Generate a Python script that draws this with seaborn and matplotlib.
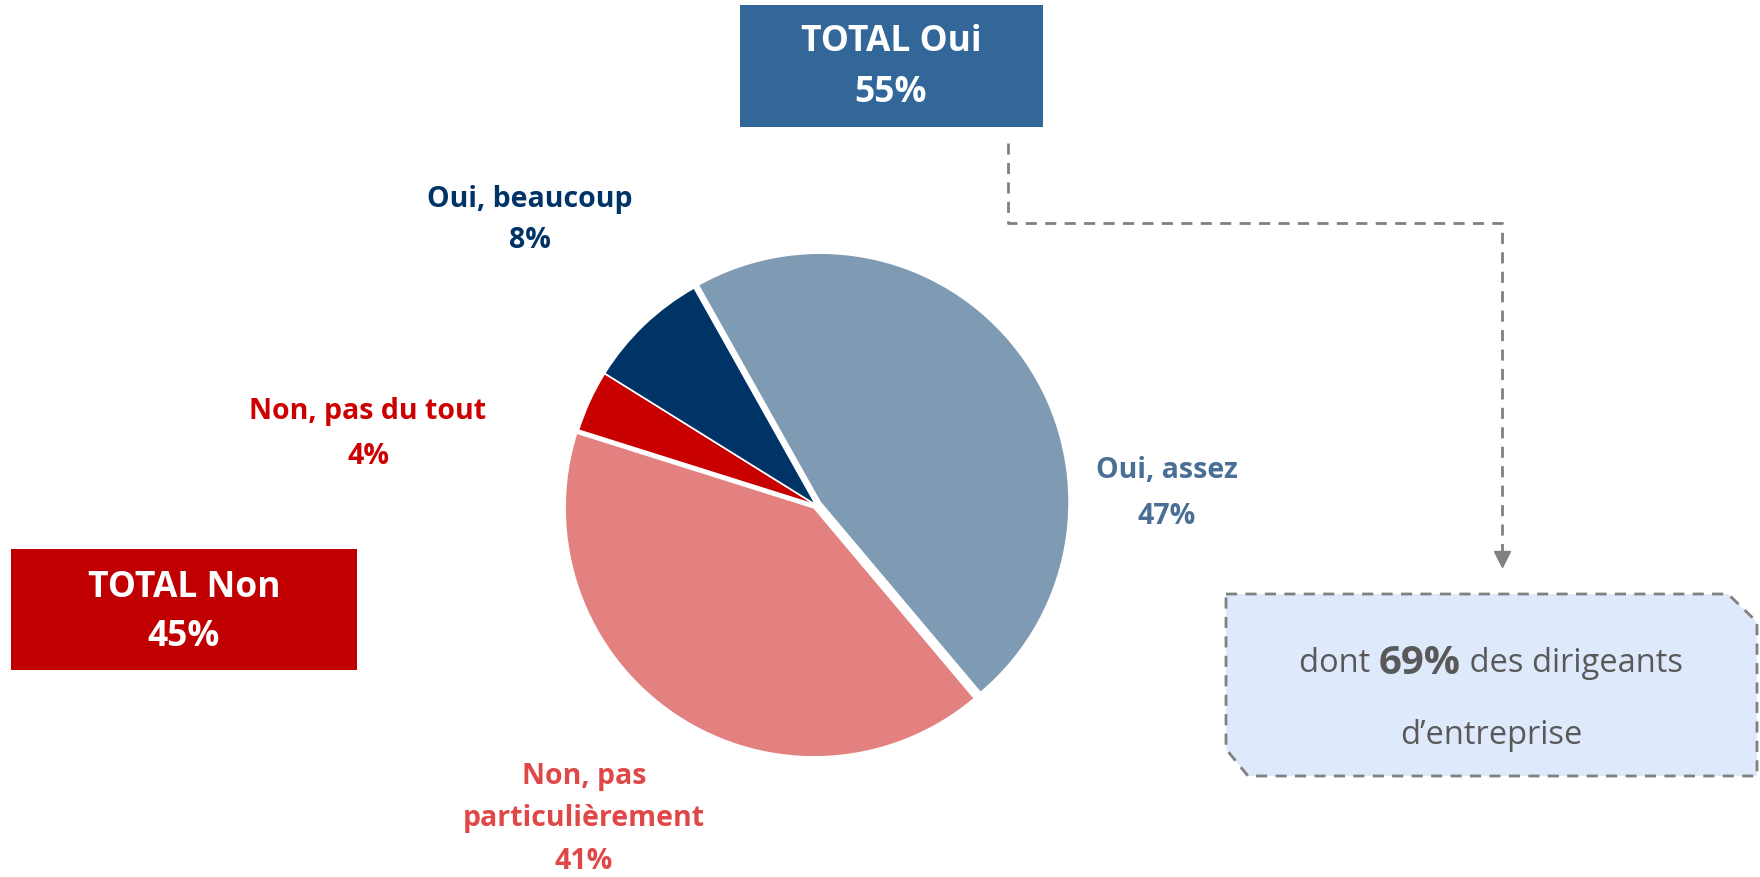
import matplotlib
matplotlib.use("Agg")
import matplotlib.pyplot as plt
from matplotlib.patches import Polygon, Rectangle
import seaborn as sns

# Données
categories = ["Oui, assez", "Non, pas", "particulièrement", "Non, pas du tout", "Oui, beaucoup"]
valeurs = [47, 41, 4, 8]
couleurs = ["#7F9AB3", "#E38080", "#C80000", "#003366"]
couleurs_texte = ["#4A6F96", "#E04848", "#CC0000", "#003366"]
total_oui = 55
total_non = 45
part_dirigeants = 69

sns.set_theme(style="white")
plt.rcParams['font.family'] = ['Open Sans', 'DejaVu Sans']

W, H = 1760, 878
fig = plt.figure(figsize=(W / 100, H / 100), dpi=100)
ax = fig.add_axes([0, 0, 1, 1])

def Y(y):
    # coordonnées image -> coordonnées axes
    return H - y

# explode en unités de données (pixels ici)
ax.pie(valeurs, colors=couleurs, startangle=119.3, counterclock=False,
       center=(816, Y(506)), radius=249, explode=[5, 3.5, 0, 0],
       wedgeprops=dict(edgecolor="white", linewidth=1.2))

ax.set_xlim(0, W)
ax.set_ylim(0, H)
ax.set_aspect("equal")
ax.axis("off")

# Étiquettes des parts
fs = 20.5
def label(x, y, s, c):
    ax.text(x, Y(y), s, ha="center", va="center", fontsize=fs,
            fontweight="bold", color=c)

label(1167, 471, categories[0], couleurs_texte[0])
label(1167, 516, f"{valeurs[0]}%", couleurs_texte[0])
label(584, 777, categories[1], couleurs_texte[1])
label(584, 819, categories[2], couleurs_texte[1])
label(584, 862, f"{valeurs[1]}%", couleurs_texte[1])
label(368, 411, categories[3], couleurs_texte[2])
label(368, 456, f"{valeurs[2]}%", couleurs_texte[2])
label(530, 200, categories[4], couleurs_texte[3])
label(530, 240, f"{valeurs[3]}%", couleurs_texte[3])

# Boîte TOTAL Oui
ax.add_patch(Rectangle((740, Y(128)), 303, 122, facecolor="#336699", edgecolor="none"))
ax.text(891, Y(42), "TOTAL Oui", ha="center", va="center", fontsize=25.5,
        fontweight="bold", color="white")
ax.text(891, Y(93), f"{total_oui}%", ha="center", va="center", fontsize=25.5,
        fontweight="bold", color="white")

# Boîte TOTAL Non
ax.add_patch(Rectangle((11, Y(671)), 346, 121, facecolor="#C00000", edgecolor="none"))
ax.text(184, Y(588), "TOTAL Non", ha="center", va="center", fontsize=25.5,
        fontweight="bold", color="white")
ax.text(184, Y(637), f"{total_non}%", ha="center", va="center", fontsize=25.5,
        fontweight="bold", color="white")

# Connecteur pointillé
ax.plot([1008, 1008, 1502, 1502], [Y(144), Y(224), Y(224), Y(556)],
        color="#808080", lw=2, ls=(0, (4, 3)))
ax.plot([1502], [Y(560)], marker="v", markersize=12, color="#808080")

# Encadré dirigeants
pts = [(1226, Y(595)), (1728, Y(595)), (1757, Y(623)), (1757, Y(777)),
       (1248, Y(777)), (1226, Y(750))]
ax.add_patch(Polygon(pts, closed=True, facecolor="#DEE9FB", edgecolor="#808080",
                     lw=2, ls=(0, (4, 3))))
cx = 1491
txt1 = ax.text(1300, Y(664), "dont ", ha="left", va="center", fontsize=23.5, color="#595959")
txt2 = ax.annotate(f"{part_dirigeants}%", xycoords=txt1, xy=(1, 0.5), va="center",
                   ha="left", fontsize=29, fontweight="bold", color="#595959")
txt3 = ax.annotate(" des dirigeants", xycoords=txt2, xy=(1, 0.5), va="center",
                   ha="left", fontsize=23.5, color="#595959")
fig.canvas.draw()
r = fig.canvas.get_renderer()
b1 = txt1.get_window_extent(r)
b3 = txt3.get_window_extent(r)
largeur = b3.x1 - b1.x0
txt1.set_x(cx - largeur / 2)
ax.text(cx, Y(736), "d\u2019entreprise", ha="center", va="center", fontsize=23.5,
        color="#595959")

fig.savefig("out.png", dpi=100)
